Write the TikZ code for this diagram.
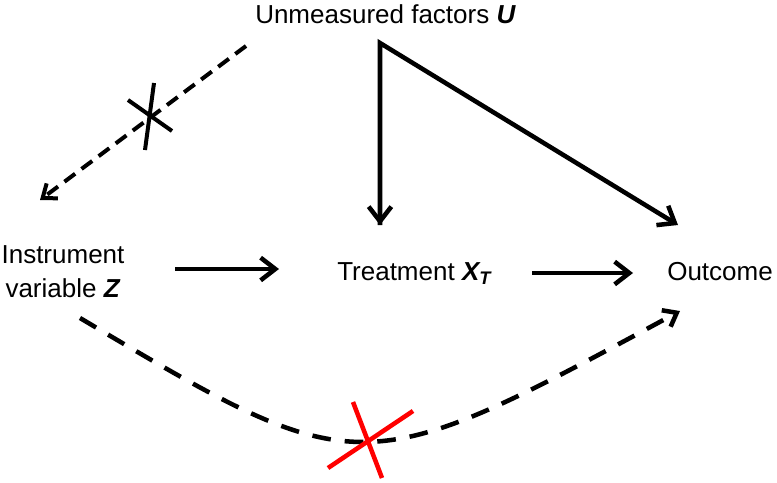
\documentclass[tikz,border=0pt]{standalone}
\usepackage{fontspec}
\setmainfont{Liberation Sans}
\usetikzlibrary{arrows.meta}
\begin{document}
\begin{tikzpicture}[x=0.75pt,y=-0.75pt,
  lbl/.style={inner sep=0pt, font=\fontsize{19.5pt}{25.5pt}\selectfont},
  arr/.style={line width=3.4pt, -{Straight Barb[length=11pt,width=17pt]}},
  darr/.style={line width=3pt, dash pattern=on 10pt off 6pt, -{Straight Barb[length=9pt,width=14pt]}},
  dcurve/.style={line width=3.4pt, dash pattern=on 14pt off 10.5pt, -{Straight Barb[length=9pt,width=14pt]}},
  blockx/.style={line width=3pt},
  redx/.style={line width=3.4pt, draw=red}
]
\useasboundingbox (0,0) rectangle (777,482);
% nodes
\node[lbl, anchor=base west] (U) at (255,23) {Unmeasured factors \textbf{\textit{U}}};
\node[lbl, align=center] (Z) at (63,272) {Instrument\\variable \textbf{\textit{Z}}};
\node[lbl, anchor=base west] (T) at (337,280) {Treatment \textbf{\textit{X\textsubscript{T}}}};
\node[lbl, anchor=base west] (Y) at (667,280) {Outcome};
% connector ends
\coordinate (u0) at (380,43);
\coordinate (uT) at (380,225);
\coordinate (uY) at (678,225);
\coordinate (zs) at (175,269);
\coordinate (ze) at (279,269);
\coordinate (ts) at (532,273);
\coordinate (te) at (633,273);
\coordinate (ud) at (246,46);
\coordinate (zd) at (40,200);
\coordinate (zc) at (80,318);
\coordinate (yc) at (680,311);
% arrows
\draw[arr] (u0) -- (uT);
\draw[arr, line join=miter] (uT) -- (u0) -- (uY);
\draw[arr] (zs) -- (ze);
\draw[arr] (ts) -- (te);
\draw[darr] (ud) -- (zd);
\draw[dcurve] (zc) .. controls (360,484) .. (yc);
% crosses
\draw[blockx] (128,100) -- (172,131);
\draw[blockx] (154,83) -- (145,150);
\draw[redx] (353,402) -- (382,478);
\draw[redx] (328,468) -- (413,411);
\end{tikzpicture}
\end{document}
